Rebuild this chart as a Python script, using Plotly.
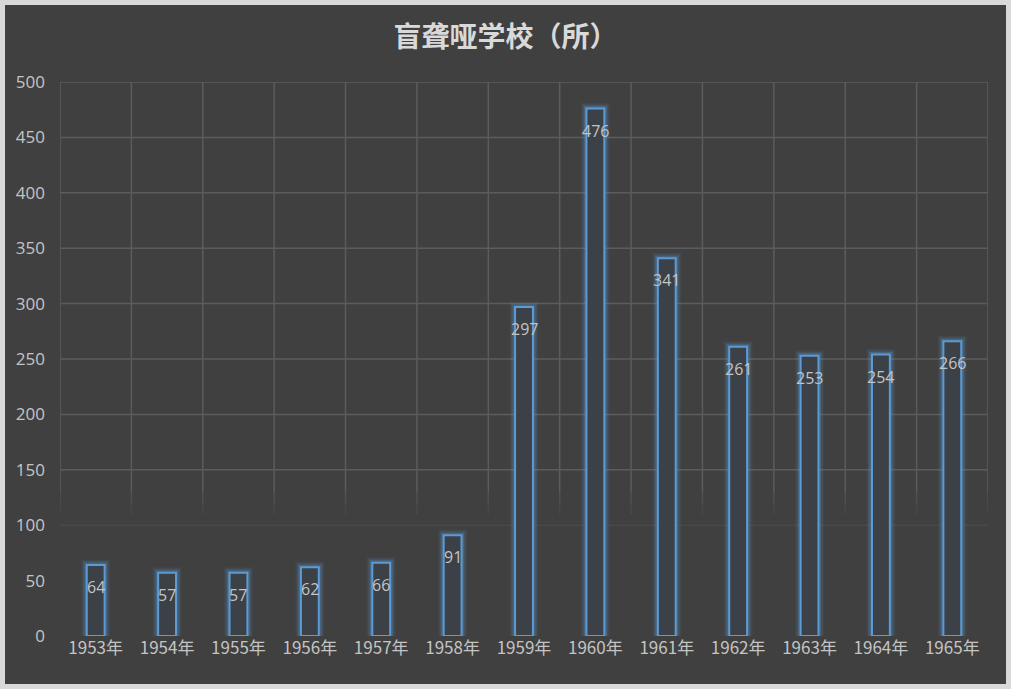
import plotly.graph_objects as go

years = ["1953年", "1954年", "1955年", "1956年", "1957年", "1958年", "1959年",
         "1960年", "1961年", "1962年", "1963年", "1964年", "1965年"]
schools = [64, 57, 57, 62, 66, 91, 297, 476, 341, 261, 253, 254, 266]
title_text = "盲聋哑学校（所）"

W, H = 1011, 689
ml, mr, mt, mb = 60, 23, 82, 53
pw, ph = W - ml - mr, H - mt - mb
PANEL = "#404040"
GRID = "#5c5c5c"

fig = go.Figure()
# glow layers
for lw, op in [(11, 0.08), (8, 0.14), (5, 0.25)]:
    fig.add_trace(go.Bar(
        x=years, y=schools, width=0.25,
        marker=dict(color="rgba(0,0,0,0)",
                    line=dict(color=f"rgba(91,155,213,{op})", width=lw)),
        hoverinfo="skip", showlegend=False))
fig.add_trace(go.Bar(
    x=years, y=schools, width=0.25,
    marker=dict(color="#3c4047", line=dict(color="#5b9bd5", width=2)),
    showlegend=False))

for yr, v in zip(years, schools):
    fig.add_annotation(x=yr, y=v, text=str(v), showarrow=False,
                       yshift=-22, font=dict(size=16, color="#c4c4c4",
                                            family="Open Sans, sans-serif"))

# outer light frame + dark panel
fig.add_shape(type="rect", xref="paper", yref="paper",
              x0=(5 - ml) / pw, x1=(W - 5 - ml) / pw,
              y0=(H - mb - (H - 5)) / ph, y1=(H - mb - 5) / ph,
              fillcolor=PANEL, line=dict(width=0), layer="below")

# grid drawn as fading shapes (fades out toward the bottom)
n = len(years)
for i in range(n + 1):
    xb = i - 0.5
    for y0, y1, op in [(130, 500, 1.0), (120, 130, 0.6), (110, 120, 0.3)]:
        fig.add_shape(type="line", xref="x", yref="y", x0=xb, x1=xb, y0=y0, y1=y1,
                      line=dict(color=GRID, width=1.5), opacity=op, layer="below")
for t in range(100, 501, 50):
    op = 1.0 if t >= 150 else 0.35
    fig.add_shape(type="line", xref="paper", yref="y", x0=0, x1=1, y0=t, y1=t,
                  line=dict(color=GRID, width=1.5), opacity=op, layer="below")

fig.update_layout(
    width=W, height=H,
    margin=dict(l=ml, r=mr, t=mt, b=mb),
    paper_bgcolor="#d9d9d9", plot_bgcolor="rgba(0,0,0,0)",
    barmode="overlay",
    title=dict(text="<b>" + title_text + "</b>", x=0.5, xref="container",
               y=1 - 37 / H, yanchor="middle",
               font=dict(size=28, color="#d9d9d9", family="Noto Sans CJK SC")),
    xaxis=dict(type="category", showgrid=False, ticks="", zeroline=False,
               showline=False, range=[-0.5, n - 0.5],
               tickfont=dict(size=17, color="#c4c4c4", family="Noto Sans CJK SC")),
    yaxis=dict(range=[0, 500], dtick=50, showgrid=False, zeroline=False,
               showline=False, ticks="", ticklabelstandoff=14,
               tickfont=dict(size=17, color="#c4c4c4", family="Open Sans, sans-serif")),
)

fig.write_html("out.html", config={"displayModeBar": False},
               post_script="document.body.style.margin='0';")
